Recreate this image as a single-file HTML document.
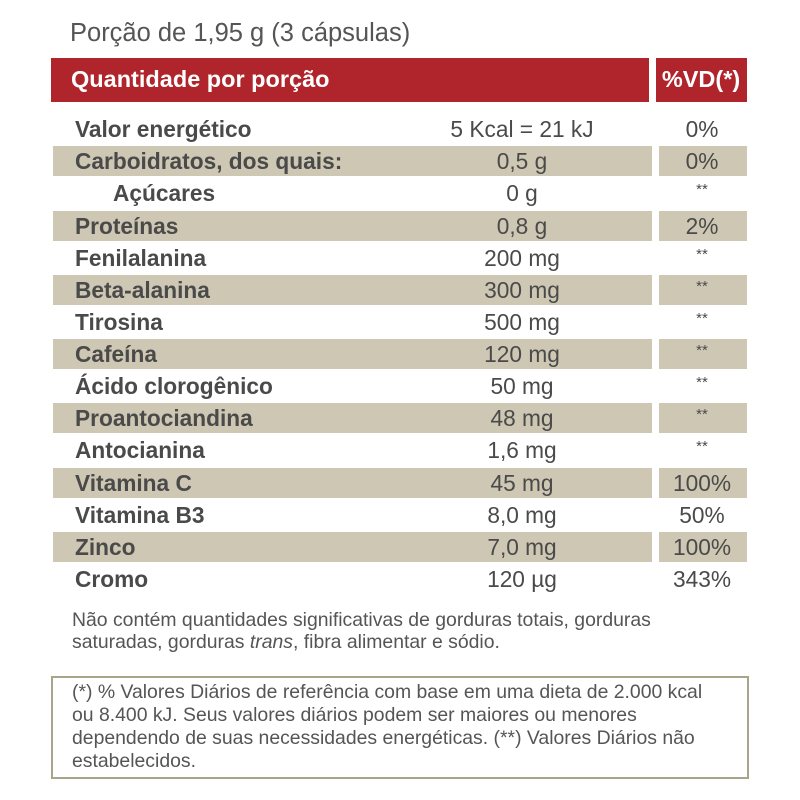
<!DOCTYPE html>
<html><head><meta charset="utf-8"><style>
body{margin:0;width:800px;height:800px;background:#fff;position:relative;overflow:hidden;font-family:"Liberation Sans Narrow","Liberation Sans",sans-serif;color:#4a4a4a}
.a{position:absolute;white-space:nowrap}
.n{}
.c{transform:translateX(-50%)}
.b{font-weight:bold}
.band{position:absolute;background:#cec7b3;height:30px}
.lab{left:75px;font-size:22.7px;font-weight:bold;color:#4a4a4a}
.val{left:522px;font-size:22.7px;color:#4a4a4a}
.vd{left:702px;font-size:22.7px;color:#4a4a4a}
.st{font-size:15px}
</style></head><body>
<div class="a n" style="left:70px;top:19px;font-size:25.5px;color:#555">Porção de 1,95 g (3 cápsulas)</div>
<div style="position:absolute;left:51px;top:58px;width:598px;height:44px;background:#b0252b"></div>
<div style="position:absolute;left:656px;top:58px;width:91px;height:44px;background:#b0252b"></div>
<div class="a n b" style="left:71px;top:66px;font-size:23.5px;color:#fff">Quantidade por porção</div>
<div class="a c b" style="left:701px;top:66px;font-size:23.5px;color:#fff">%VD(*)</div>

<div class="band" style="left:53px;top:146px;width:599px"></div><div class="band" style="left:659px;top:146px;width:88px"></div>
<div class="band" style="left:53px;top:211px;width:599px"></div><div class="band" style="left:659px;top:211px;width:88px"></div>
<div class="band" style="left:53px;top:275px;width:599px"></div><div class="band" style="left:659px;top:275px;width:88px"></div>
<div class="band" style="left:53px;top:339px;width:599px"></div><div class="band" style="left:659px;top:339px;width:88px"></div>
<div class="band" style="left:53px;top:403px;width:599px"></div><div class="band" style="left:659px;top:403px;width:88px"></div>
<div class="band" style="left:53px;top:468px;width:599px"></div><div class="band" style="left:659px;top:468px;width:88px"></div>
<div class="band" style="left:53px;top:532px;width:599px"></div><div class="band" style="left:659px;top:532px;width:88px"></div>

<div class="a n lab" style="top:116px">Valor energético</div><div class="a c val" style="top:116px">5 Kcal = 21 kJ</div><div class="a c vd" style="top:116px">0%</div>
<div class="a n lab" style="top:148px">Carboidratos, dos quais:</div><div class="a c val" style="top:148px">0,5 g</div><div class="a c vd" style="top:148px">0%</div>
<div class="a n lab" style="top:180px;left:113px">Açúcares</div><div class="a c val" style="top:180px">0 g</div><div class="a c vd st" style="top:181px">**</div>
<div class="a n lab" style="top:213px">Proteínas</div><div class="a c val" style="top:213px">0,8 g</div><div class="a c vd" style="top:213px">2%</div>
<div class="a n lab" style="top:245px">Fenilalanina</div><div class="a c val" style="top:245px">200 mg</div><div class="a c vd st" style="top:246px">**</div>
<div class="a n lab" style="top:277px">Beta-alanina</div><div class="a c val" style="top:277px">300 mg</div><div class="a c vd st" style="top:278px">**</div>
<div class="a n lab" style="top:309px">Tirosina</div><div class="a c val" style="top:309px">500 mg</div><div class="a c vd st" style="top:310px">**</div>
<div class="a n lab" style="top:341px">Cafeína</div><div class="a c val" style="top:341px">120 mg</div><div class="a c vd st" style="top:342px">**</div>
<div class="a n lab" style="top:373px">Ácido clorogênico</div><div class="a c val" style="top:373px">50 mg</div><div class="a c vd st" style="top:374px">**</div>
<div class="a n lab" style="top:405px">Proantociandina</div><div class="a c val" style="top:405px">48 mg</div><div class="a c vd st" style="top:406px">**</div>
<div class="a n lab" style="top:437px">Antocianina</div><div class="a c val" style="top:437px">1,6 mg</div><div class="a c vd st" style="top:438px">**</div>
<div class="a n lab" style="top:470px">Vitamina C</div><div class="a c val" style="top:470px">45 mg</div><div class="a c vd" style="top:470px">100%</div>
<div class="a n lab" style="top:502px">Vitamina B3</div><div class="a c val" style="top:502px">8,0 mg</div><div class="a c vd" style="top:502px">50%</div>
<div class="a n lab" style="top:534px">Zinco</div><div class="a c val" style="top:534px">7,0 mg</div><div class="a c vd" style="top:534px">100%</div>
<div class="a n lab" style="top:566px">Cromo</div><div class="a c val" style="top:566px">120 µg</div><div class="a c vd" style="top:566px">343%</div>

<div class="a n" style="left:72px;top:609px;font-size:19.4px;line-height:22px;color:#555">Não contém quantidades significativas de gorduras totais, gorduras<br>saturadas, gorduras <i>trans</i>, fibra alimentar e sódio.</div>
<div style="position:absolute;left:51px;top:676px;width:694px;height:99px;border:2px solid #a8a58b"></div>
<div class="a n" style="left:72px;top:681px;font-size:19.4px;line-height:23px;color:#555">(*) % Valores Diários de referência com base em uma dieta de 2.000 kcal<br>ou 8.400 kJ. Seus valores diários podem ser maiores ou menores<br>dependendo de suas necessidades energéticas. (**) Valores Diários não<br>estabelecidos.</div>
</body></html>
